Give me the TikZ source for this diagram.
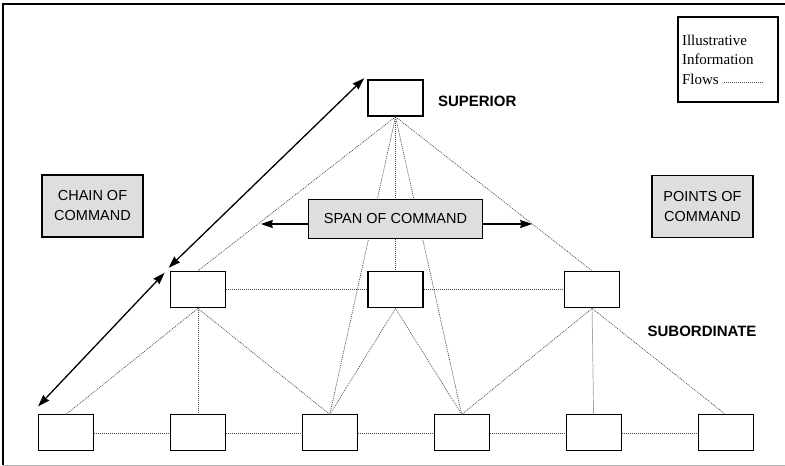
\documentclass[tikz,border=0pt]{standalone}
\usepackage{fontspec}
\setmainfont{Liberation Serif}
\setsansfont{Liberation Sans}
\usetikzlibrary{arrows.meta,positioning}

\begin{document}
\begin{tikzpicture}[x=1pt, y=1pt,
  post/.style={draw, line width=1.6pt, fill=white, minimum width=55pt,
               minimum height=36pt, inner sep=0pt},
  lowpost/.style={post, line width=0.9pt},
  note/.style={draw, line width=1.4pt, fill=black!13, align=center, inner sep=0pt,
               font=\sffamily\fontsize{14.5}{20}\selectfont},
  rank/.style={inner sep=0pt, font=\sffamily\bfseries\fontsize{15}{18}\selectfont},
  key/.style={draw, line width=1.2pt, minimum width=100pt, minimum height=85pt,
              text width=92pt, inner sep=4pt, align=left,
              font=\rmfamily\fontsize{15}{19.5}\selectfont},
  flow/.style={black!70, line width=0.7pt, dash pattern=on 1pt off 1pt},
  span/.style={-{Stealth[length=12pt, width=8pt, inset=1pt]}, line width=1.3pt},
  chain/.style={{Stealth[length=12pt, width=8pt, inset=1pt]}-{Stealth[length=12pt, width=8pt, inset=1pt]},
                line width=1.3pt}
]
\useasboundingbox (0,0) rectangle (785,-466);

% Frame
\draw[line width=1.3pt] (785,-4) -- (3,-4) -- (3,-465);
\draw[black!30, line width=1pt] (3,-465) -- (785,-465);

% Superior
\node[post] (sup) at (395.5,-98) {};

% Middle row
\node[post, below=154pt of sup] (midB) {};
\node[post, left=141pt of midB] (midA) {};
\node[post, right=140pt of midB] (midC) {};

% Bottom row
\node[lowpost, below=106pt of midA] (lowB) {};
\node[lowpost, left=76pt of lowB] (lowA) {};
\node[lowpost, right=76pt of lowB] (lowC) {};
\node[lowpost, right=76pt of lowC] (lowD) {};
\node[lowpost, right=76pt of lowD] (lowE) {};
\node[lowpost, right=76pt of lowE] (lowF) {};

% Information flows
\foreach \n in {midA,midB,midC,lowC,lowD}
  \draw[flow] (sup.south) -- (\n.north);
\foreach \n in {lowA,lowB,lowC}
  \draw[flow] (midA.south) -- (\n.north);
\foreach \n in {lowC,lowD}
  \draw[flow] (midB.south) -- (\n.north);
\foreach \n in {lowD,lowE,lowF}
  \draw[flow] (midC.south) -- (\n.north);
\draw[flow] (midA.east) -- (midB.west);
\draw[flow] (midB.east) -- (midC.west);
\foreach \a/\b in {lowA/lowB,lowB/lowC,lowC/lowD,lowD/lowE,lowE/lowF}
  \draw[flow] (\a.east) -- (\b.west);

% Notes
\node[note, minimum width=101pt, minimum height=62pt] (chainnote) at (92.5,-206) {CHAIN OF\\COMMAND};
\node[note, minimum width=174pt, minimum height=39pt, below=82pt of sup] (spannote) {SPAN OF COMMAND};
\node[note, minimum width=101pt, minimum height=62pt] (pointnote) at (702.5,-206.5) {POINTS OF\\COMMAND};

% Span arrows
\coordinate (spanL) at ([shift={(-47pt,-5pt)}]spannote.west);
\coordinate (spanR) at ([shift={(49pt,-5pt)}]spannote.east);
\draw[span] ([yshift=-5pt]spannote.west) -- (spanL);
\draw[span] ([yshift=-5pt]spannote.east) -- (spanR);

% Chain arrows
\draw[chain] ([shift={(-3pt,1pt)}]sup.north west) -- ([shift={(-1pt,3pt)}]midA.north west);
\draw[chain] ([shift={(-5pt,-2pt)}]midA.north west) -- ([shift={(0pt,8pt)}]lowA.north west);

% Labels
\node[rank, right=14pt of sup, yshift=-3pt] (suplbl) {SUPERIOR};
\node[rank, below right=17pt and 27pt of midC] (sublbl) {SUBORDINATE};

% Legend
\node[key] (legend) at (728,-59.5) {Illustrative\\Information\\Flows};
\coordinate (legendL) at ([shift={(47pt,20pt)}]legend.south west);
\coordinate (legendR) at ([shift={(87pt,20pt)}]legend.south west);
\draw[flow] (legendL) -- (legendR);

\end{tikzpicture}
\end{document}
